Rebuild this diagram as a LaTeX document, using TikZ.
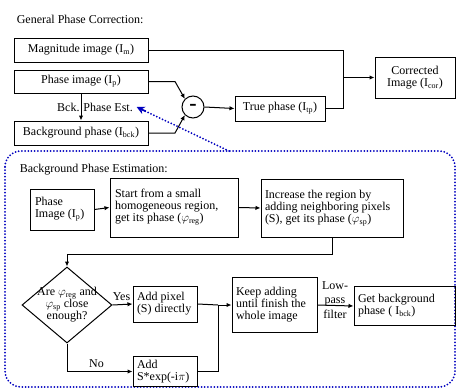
\documentclass[tikz,border=0pt]{standalone}
\usepackage{fontspec}
\setmainfont{Liberation Serif}
\usetikzlibrary{arrows.meta,shapes.geometric,calc}

\begin{document}
\begin{tikzpicture}[x=1pt,y=-1pt,line width=1pt,
    font=\fontsize{12}{12}\selectfont,
    box/.style={draw,rectangle,inner sep=2pt,align=center},
    lbox/.style={draw,rectangle,inner sep=4pt,align=left,text badly ragged},
    arr/.style={-{Latex[length=5pt,width=4.5pt]}},
    est/.style={blue!75!black,line width=2pt,line cap=round,dash pattern=on 0pt off 3.2pt}]
  \useasboundingbox (0,0) rectangle (456,388);
  \node[anchor=west] (gtitle) at (13,19) {General Phase Correction:};
  \node[box,minimum width=134pt,minimum height=24pt] (mag) at (81,50) {Magnitude image (I\textsubscript{m})};
  \node[box,minimum width=134pt,minimum height=23pt] (phase) at (81,81.5) {Phase image (I\textsubscript{p})};
  \node[box,minimum width=134pt,minimum height=24pt] (bck) at (81,133) {Background phase (I\textsubscript{bck})};
  \node[draw,circle,minimum size=22pt,inner sep=0pt,font=\fontsize{22}{22}\bfseries] (minus) at (193,107) {-};
  \node[box,minimum width=90pt,minimum height=25pt] (tp) at (280,108.5) {True phase (I\textsubscript{tp})};
  \node[box,minimum width=80pt,minimum height=41pt] (cor) at (415,77.5) {Corrected\\Image (I\textsubscript{cor})};
  \node (bpe) at (95,107) {Bck. Phase Est.};
  \coordinate (j1) at (343,77.5);
  \draw[arr] (phase.south) -- (bck.north);
  \draw[arr] (phase.east) -- (175,81.5) -- (minus.north west);
  \draw[arr] (bck.east) -- (175,133) -- (minus.south west);
  \draw[arr] (minus.east) -- (tp.west);
  \draw (mag.east) -- (343,50) -- (343,108.5) -- (tp.east);
  \draw[arr] (j1) -- (cor.west);
  \draw[est,rounded corners=16pt] (5,151) rectangle (455,387);
  \coordinate (estTop) at (229,151);
  \draw[est] (estTop) -- (bpe.east);
  \draw[blue!75!black,line width=1.6pt,-{Stealth[length=8pt,width=8pt,open]}] ($(bpe.east)!0.1!(estTop)$) -- (bpe.east);
  \node[anchor=west] (etitle) at (16,170) {Background Phase Estimation:};
  \node[lbox,minimum width=64pt,minimum height=41pt,text width=54pt] (pimg) at (62,209.5) {Phase\\Image (I\textsubscript{p})};
  \node[lbox,minimum width=128pt,minimum height=59pt,text width=118pt] (start) at (174,207.5) {Start from a small\\homogeneous region,\\get its phase ($\varphi$\textsubscript{reg})};
  \node[lbox,minimum width=142pt,minimum height=58pt,text width=134pt] (inc) at (332,208) {Increase the region by\\adding neighboring pixels\\(S), get its phase ($\varphi$\textsubscript{sp})};
  \node[draw,diamond,shape aspect=1.2,minimum width=90pt,minimum height=76pt,inner sep=-9pt,align=center] (close) at (67,305) {Are $\varphi$\textsubscript{reg} and\\$\varphi$\textsubscript{sp} close\\enough?};
  \node[lbox,minimum width=64pt,minimum height=36pt,text width=56pt] (addpx) at (165,304) {Add pixel\\(S) directly};
  \node[lbox,minimum width=64pt,minimum height=29pt,text width=56pt] (adds) at (165,371.5) {Add\\S*exp(-i$\pi$)};
  \node[lbox,minimum width=85pt,minimum height=55pt,text width=77pt] (keep) at (274.5,305) {Keep adding\\until finish the\\whole image};
  \node[lbox,minimum width=101pt,minimum height=39pt,text width=93pt] (getb) at (404.5,306) {Get background\\phase ( I\textsubscript{bck})};
  \node[align=center,font=\fontsize{12}{14.5}\selectfont] (lp) at (335,300) {Low-\\pass\\filter};
  \coordinate (j2) at (218,305);
  \draw[arr] (pimg.east) -- (start.west);
  \draw[arr] (start.east) -- (inc.west);
  \draw[arr] (inc.south) -- (332,254) -- (67,254) -- (close.north);
  \draw[arr] (close.east) -- node[above,pos=0.45] {Yes} (addpx.west);
  \draw[arr] (close.south) -- (67,371.5) -- node[above,pos=0.45] {No} (adds.west);
  \draw (addpx.east) -- (j2);
  \draw (adds.east) -- (218,371.5) -- (j2);
  \draw[arr] (j2) -- (keep.west);
  \draw[arr] (keep.east) -- (getb.west);
\end{tikzpicture}
\end{document}
